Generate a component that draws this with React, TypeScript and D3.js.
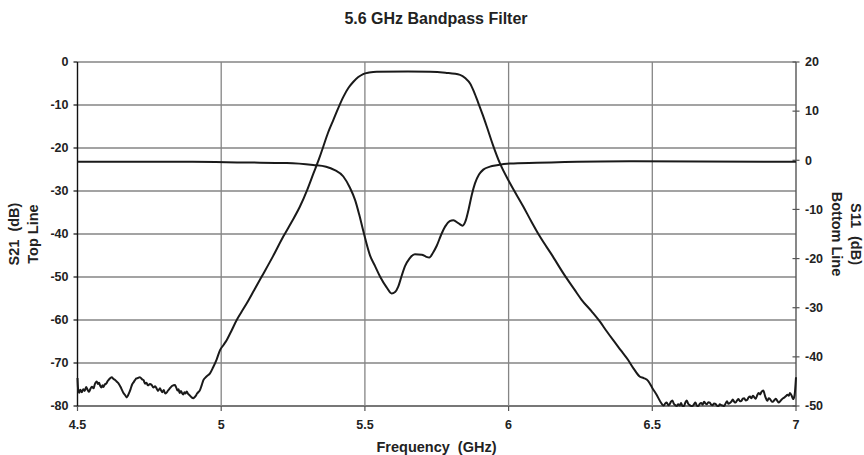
import React from "react";
import * as d3 from "d3";

const title = "5.6 GHz Bandpass Filter";
const xTicks = [4.5, 5, 5.5, 6, 6.5, 7];
const xTickLabels = ["4.5", "5", "5.5", "6", "6.5", "7"];
const leftTicks = [0, -10, -20, -30, -40, -50, -60, -70, -80];
const rightTicks = [20, 10, 0, -10, -20, -30, -40, -50];

// S21 (top line, left axis) [GHz, dB]
const s21Freq = [
  4.5, 4.502, 4.506, 4.51, 4.515, 4.52, 4.525, 4.53, 4.535, 4.54, 4.545, 4.55, 4.556, 4.56, 4.567, 4.571, 4.575, 4.579, 4.583, 4.587,
  4.59, 4.595, 4.6, 4.605, 4.61, 4.619, 4.625, 4.63, 4.636, 4.642, 4.65, 4.655, 4.66, 4.666, 4.671, 4.676, 4.68, 4.685, 4.69, 4.695,
  4.7, 4.705, 4.71, 4.717, 4.725, 4.73, 4.735, 4.74, 4.745, 4.752, 4.758, 4.764, 4.77, 4.775, 4.78, 4.787, 4.791, 4.795, 4.8, 4.805,
  4.81, 4.815, 4.82, 4.825, 4.83, 4.839, 4.844, 4.848, 4.852, 4.855, 4.86, 4.863, 4.868, 4.872, 4.876, 4.88, 4.885, 4.89, 4.897, 4.903,
  4.908, 4.912, 4.916, 4.92, 4.926, 4.932, 4.938, 4.948, 4.955, 4.961, 4.972, 4.984, 4.996, 5.008, 5.019, 5.035, 5.054, 5.07, 5.089, 5.115,
  5.141, 5.18, 5.216, 5.245, 5.274, 5.3, 5.321, 5.34, 5.355, 5.372, 5.39, 5.408, 5.425, 5.443, 5.46, 5.477, 5.494, 5.515, 5.541, 5.65,
  5.727, 5.78, 5.831, 5.85, 5.866, 5.88, 5.895, 5.91, 5.924, 5.945, 5.97, 6.005, 6.051, 6.08, 6.109, 6.15, 6.19, 6.23, 6.254, 6.289,
  6.318, 6.34, 6.364, 6.39, 6.416, 6.435, 6.457, 6.47, 6.486, 6.5, 6.515, 6.533, 6.54, 6.545, 6.55, 6.556, 6.56, 6.565, 6.57, 6.575,
  6.58, 6.585, 6.59, 6.595, 6.6, 6.605, 6.61, 6.615, 6.62, 6.625, 6.63, 6.635, 6.64, 6.645, 6.65, 6.655, 6.66, 6.665, 6.67, 6.675,
  6.68, 6.685, 6.69, 6.695, 6.7, 6.705, 6.71, 6.715, 6.72, 6.725, 6.73, 6.735, 6.74, 6.745, 6.75, 6.755, 6.76, 6.765, 6.77, 6.775,
  6.78, 6.785, 6.79, 6.795, 6.8, 6.805, 6.81, 6.815, 6.82, 6.825, 6.83, 6.835, 6.84, 6.845, 6.85, 6.855, 6.86, 6.865, 6.87, 6.875,
  6.88, 6.886, 6.893, 6.9, 6.905, 6.91, 6.915, 6.92, 6.925, 6.93, 6.935, 6.94, 6.945, 6.95, 6.955, 6.96, 6.965, 6.97, 6.975, 6.979,
  6.985, 6.99, 6.995, 7.0,
];
const s21Db = [
  -73.5, -76.0, -76.9, -76.2, -76.8, -76.1, -76.5, -75.6, -76.2, -76.7, -76.0, -75.5, -75.9, -75.0, -74.3, -74.9, -74.6, -75.3, -75.7, -75.2,
  -75.6, -75.0, -74.8, -74.2, -73.8, -73.3, -73.7, -73.9, -74.3, -74.7, -75.6, -76.3, -77.0, -77.5, -78.0, -77.5, -76.9, -76.0, -75.0, -74.5,
  -74.0, -73.6, -73.5, -73.3, -73.8, -74.0, -74.8, -74.6, -75.2, -74.9, -75.1, -75.7, -75.4, -75.9, -76.5, -75.9, -76.4, -76.8, -76.3, -77.1,
  -76.9, -76.4, -76.0, -75.6, -75.3, -75.1, -75.8, -76.4, -76.1, -77.0, -76.5, -76.9, -77.3, -76.8, -77.1, -76.6, -77.2, -77.5, -78.0, -78.2,
  -77.9, -77.6, -77.1, -76.8, -76.3, -75.2, -74.0, -73.2, -72.8, -72.4, -71.0, -69.2, -67.0, -65.8, -64.7, -62.6, -60.0, -58.2, -56.1, -53.0,
  -49.9, -45.2, -40.6, -37.2, -33.6, -29.6, -25.9, -22.6, -19.7, -16.4, -13.5, -10.6, -8.1, -6.0, -4.6, -3.5, -2.8, -2.45, -2.25, -2.2,
  -2.25, -2.5, -3.0, -3.8, -5.0, -7.0, -9.6, -12.3, -15.0, -19.2, -23.6, -28.2, -33.6, -37.2, -40.6, -44.8, -49.1, -53.0, -55.3, -58.0,
  -60.4, -62.5, -64.7, -67.0, -69.3, -71.3, -73.2, -73.5, -74.2, -75.8, -77.4, -79.5, -79.9, -79.4, -79.2, -79.8, -79.6, -79.0, -78.7, -79.5,
  -79.8, -80.0, -79.6, -79.9, -79.3, -80.0, -80.0, -79.2, -78.7, -79.5, -79.8, -80.0, -80.0, -79.6, -79.2, -79.9, -80.0, -79.5, -79.3, -79.7,
  -79.0, -79.4, -79.6, -79.1, -79.2, -79.7, -79.8, -79.4, -79.5, -79.9, -80.0, -79.6, -79.8, -79.9, -80.0, -79.4, -78.9, -79.5, -79.3, -79.0,
  -78.5, -79.0, -79.2, -78.7, -78.4, -78.9, -78.8, -78.3, -78.2, -78.7, -78.6, -78.0, -77.8, -78.2, -77.6, -78.0, -78.3, -77.5, -77.0, -77.3,
  -76.7, -76.4, -77.8, -78.8, -78.2, -78.4, -78.9, -79.0, -78.6, -78.3, -78.8, -79.2, -78.9, -78.5, -78.2, -78.0, -77.7, -77.4, -77.6, -77.0,
  -77.6, -78.4, -77.5, -73.3,
];

// S11 (bottom line, right axis) [GHz, dB]
const s11Freq = [
  4.5, 4.7, 4.9, 5.083, 5.228, 5.32, 5.365, 5.395, 5.425, 5.448, 5.466, 5.48, 5.494, 5.518, 5.535, 5.553, 5.575, 5.593, 5.605, 5.616,
  5.628, 5.64, 5.655, 5.674, 5.698, 5.712, 5.724, 5.737, 5.75, 5.765, 5.779, 5.795, 5.808, 5.825, 5.84, 5.85, 5.86, 5.872, 5.883, 5.897,
  5.912, 5.935, 5.959, 6.005, 6.098, 6.42, 7.0,
];
const s11Db = [
  -0.3, -0.3, -0.3, -0.45, -0.55, -0.95, -1.3, -2.0, -3.3, -5.6, -8.1, -11.0, -14.3, -19.4, -21.5, -23.7, -25.8, -27.1, -26.8, -25.7,
  -23.5, -21.5, -20.0, -19.1, -19.2, -19.6, -19.8, -18.8, -17.4, -15.2, -13.5, -12.4, -12.2, -12.8, -13.3, -12.4, -10.2, -7.0, -4.7, -2.9,
  -1.9, -1.3, -1.0, -0.65, -0.5, -0.2, -0.3,
];

const W = 864;
const H = 455;
const font = "'Liberation Sans', Arial, Helvetica, sans-serif";

export default function App() {
  const x = d3.scaleLinear().domain([4.5, 7]).range([77.5, 796]);
  const yL = d3.scaleLinear().domain([-80, 0]).range([406, 62]);
  const yR = d3.scaleLinear().domain([-50, 20]).range([406, 62]);

  const lineL = d3
    .line<number>()
    .x((_, i) => x(s21Freq[i]))
    .y((d) => yL(d))
    .curve(d3.curveMonotoneX);
  const lineR = d3
    .line<number>()
    .x((_, i) => x(s11Freq[i]))
    .y((d) => yR(d))
    .curve(d3.curveMonotoneX);

  const [x0, x1] = x.range();
  const grid = "#858585";

  return (
    <svg
      width={W}
      height={H}
      style={{ position: "absolute", left: 0, top: 0, background: "#fff" }}
      fontFamily={font}
      fontWeight="bold"
    >
      <rect x={0} y={0} width={W} height={H} fill="#fff" />
      <text x={436} y={24} textAnchor="middle" fontSize={16} fill="#222">
        {title}
      </text>

      {/* horizontal grid */}
      {leftTicks.map((t) => (
        <line key={"h" + t} x1={x0} x2={x1} y1={yL(t)} y2={yL(t)} stroke={t === -80 ? "#777" : grid} strokeWidth={t === -80 ? 2 : 1.3} />
      ))}
      {/* vertical grid */}
      {xTicks.slice(1, -1).map((t) => (
        <line key={"v" + t} x1={x(t)} x2={x(t)} y1={yL(0)} y2={yL(-80)} stroke={grid} strokeWidth={1.3} />
      ))}

      {/* left axis */}
      <line x1={x0} x2={x0} y1={yL(0)} y2={yL(-80) + 1} stroke="#111" strokeWidth={1.4} />
      {leftTicks.map((t) => (
        <g key={"lt" + t}>
          <line x1={x0 - 4} x2={x0} y1={yL(t)} y2={yL(t)} stroke="#111" strokeWidth={1.2} />
          <text x={68.5} y={yL(t) + 4.3} textAnchor="end" fontSize={12.5} fill="#222">
            {t}
          </text>
        </g>
      ))}

      {/* right axis */}
      <line x1={x1} x2={x1} y1={yR(20)} y2={yR(-50) + 1} stroke="#555" strokeWidth={1.4} />
      {rightTicks.map((t) => (
        <g key={"rt" + t}>
          <line x1={x1 - 3.5} x2={x1 + 3.5} y1={yR(t)} y2={yR(t)} stroke="#555" strokeWidth={1.2} />
          <text x={805} y={yR(t) + 4.3} textAnchor="start" fontSize={12.5} fill="#222">
            {t}
          </text>
        </g>
      ))}

      {/* bottom axis ticks */}
      {xTicks.map((t, i) => (
        <g key={"xt" + t}>
          <line x1={x(t)} x2={x(t)} y1={yL(-80)} y2={yL(-80) + 5} stroke="#555" strokeWidth={1.2} />
          <text x={x(t)} y={428.5} textAnchor="middle" fontSize={12.5} fill="#222">
            {xTickLabels[i]}
          </text>
        </g>
      ))}

      {/* axis titles */}
      <text x={436.5} y={452} textAnchor="middle" fontSize={14.5} fill="#222" style={{ whiteSpace: "pre" }}>
        {"Frequency  (GHz)"}
      </text>
      <g transform={`translate(19,234) rotate(-90)`}>
        <text x={0} y={0} textAnchor="middle" fontSize={14.5} fill="#222" style={{ whiteSpace: "pre" }}>
          {"S21  (dB)"}
        </text>
        <text x={0} y={19} textAnchor="middle" fontSize={14.5} fill="#222">
          Top Line
        </text>
      </g>
      <g transform={`translate(851,234) rotate(90)`}>
        <text x={0} y={0} textAnchor="middle" fontSize={14.5} fill="#222" style={{ whiteSpace: "pre" }}>
          {"S11  (dB)"}
        </text>
        <text x={0} y={19} textAnchor="middle" fontSize={14.5} fill="#222">
          Bottom Line
        </text>
      </g>

      {/* data */}
      <path d={lineR(s11Db) || ""} fill="none" stroke="#1a1a1a" strokeWidth={2} strokeLinejoin="round" />
      <path d={lineL(s21Db) || ""} fill="none" stroke="#1a1a1a" strokeWidth={2} strokeLinejoin="round" />
    </svg>
  );
}
